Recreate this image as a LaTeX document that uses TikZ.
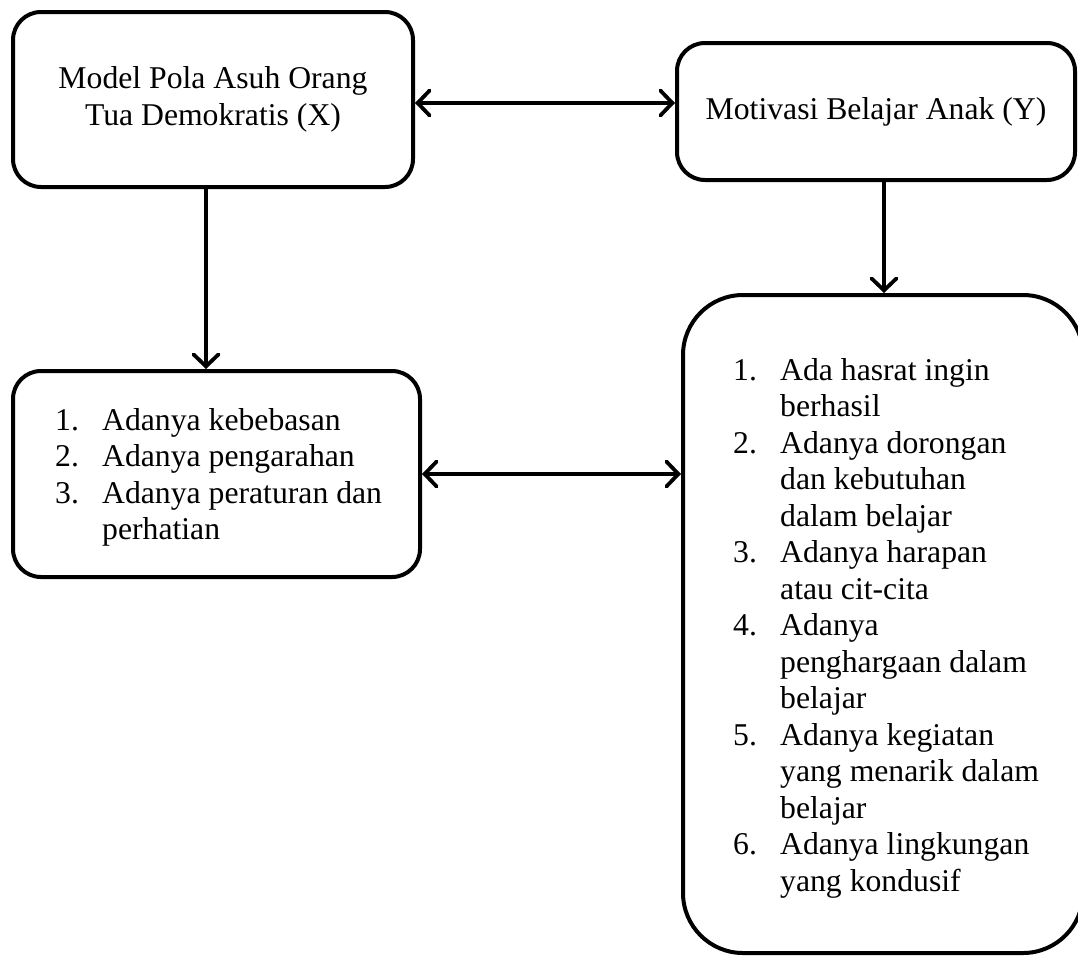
\documentclass[tikz,border=0pt]{standalone}
\usepackage{fontspec}
\setmainfont{Liberation Serif}
\usetikzlibrary{arrows.meta}

\begin{document}
\begin{tikzpicture}[x=1pt,y=-1pt,bx/.style={draw,line width=4pt,rounded corners=28pt,inner
					sep=0pt,align=center,font=\fontsize{31.7}{36.5}\selectfont},lst/.style={inner
					sep=0pt,anchor=north west,font=\fontsize{31.7}{36.5}\selectfont},ar/.style={line
					width=3.8pt,{Straight Barb[length=12pt,width=25pt,line cap=round]}-{Straight Barb[length=12pt,width=25pt,line cap=round]}},dn/.style={line
					width=3.8pt,-{Straight Barb[length=12pt,width=25pt,line cap=round]}}]
		\useasboundingbox (0,0) rectangle (1078,956);
		\node[bx,minimum width=400pt,minimum height=175pt] (X) at (213,99.5) {Model Pola Asuh Orang\\Tua Demokratis (X)};
		\node[bx,minimum width=398pt,minimum height=137pt] (Y) at (876,111.5) {Motivasi Belajar Anak (Y)};
		\node[bx,minimum width=407pt,minimum height=206pt] (indX) at (216.5,474) {};
		\node[bx,rounded corners=60pt,minimum width=400pt,minimum height=658pt] (indY) at (883,624) {};
		\node[lst] (indXlist) at (55,404.5) {\begin{tabular}{@{}p{47pt}@{}l@{}}
				1. & Adanya kebebasan\\
				2. & Adanya pengarahan\\
				3. & Adanya peraturan dan\\
				   & perhatian
			\end{tabular}};
		\node[lst] (indYlist) at (733,354.5) {\begin{tabular}{@{}p{47pt}@{}l@{}}
				1. & Ada hasrat ingin\\
				   & berhasil\\
				2. & Adanya dorongan\\
				   & dan kebutuhan\\
				   & dalam belajar\\
				3. & Adanya harapan\\
				   & atau cit-cita\\
				4. & Adanya\\
				   & penghargaan dalam\\
				   & belajar\\
				5. & Adanya kegiatan\\
				   & yang menarik dalam\\
				   & belajar\\
				6. & Adanya lingkungan\\
				   & yang kondusif
			\end{tabular}};
		\draw[ar] ([yshift=-3.5pt]X.east) -- ([yshift=-3.5pt]X.east -| Y.west);
		\draw[ar] (indX.east) -- (indX.east -| indY.west);
		\draw[dn] ([xshift=-7pt]X.south) -- ([xshift=-7pt]X.south |- indX.north);
		\draw[dn] ([xshift=8pt]Y.south) -- ([xshift=8pt]Y.south |- indY.north);
	\end{tikzpicture}
\end{document}
